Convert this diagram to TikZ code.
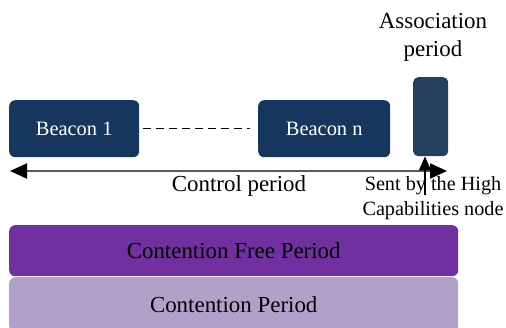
\documentclass[tikz,border=0pt]{standalone}
\usepackage{fontspec}
\setmainfont{Liberation Serif}
\newfontfamily\lserif{Liberation Serif}
\usetikzlibrary{arrows.meta}
\definecolor{navy}{HTML}{17365D}
\definecolor{assoc}{HTML}{243F60}
\definecolor{cfp}{HTML}{7030A0}
\definecolor{cp}{HTML}{B1A0C7}
\tikzset{
  beaconbox/.style={fill=navy, rounded corners=6bp, text=white, font=\lserif\fontsize{20.5}{22}\selectfont, anchor=north west, inner sep=0pt},
  periodbox/.style={rounded corners=6bp, font=\lserif\fontsize{23}{24}\selectfont, anchor=north west, inner sep=0pt},
  lbl/.style={font=\lserif\fontsize{23}{28}\selectfont, align=center, inner sep=0pt}
}
\begin{document}
\begin{tikzpicture}[x=1bp,y=-1bp]
\useasboundingbox (0,0) rectangle (506,327);
\node[beaconbox, minimum width=130bp, minimum height=57bp] (b1) at (9,100) {Beacon 1};
\node[beaconbox, minimum width=132bp, minimum height=57bp] (bn) at (258,100) {Beacon n};
\node[fill=assoc, rounded corners=5bp, anchor=north west, minimum width=35bp, minimum height=79bp, inner sep=0pt] (ap) at (413,77) {};
\draw[dash pattern=on 8bp off 5bp, line width=1bp, shorten <=4bp, shorten >=8bp] (b1.east) -- (bn.west);
\node[lbl] (aplbl) at (433,37) {Association\\period};
\coordinate (cl) at (10,171);
\coordinate (cr) at (447,171);
\draw[gray!70!black, line width=2bp, {Triangle[length=17bp,width=15bp,color=black,fill=black]}-{Triangle[length=17bp,width=15bp,color=black,fill=black]}] (cl) -- (cr);
\node[lbl] (ctl) at (239,186) {Control period};
\coordinate (sb) at (425,195);
\draw[line width=1.3bp, -{Triangle[length=14bp,width=12bp]}] (sb) -- (ap.south -| sb);
\node[lbl, font=\lserif\fontsize{20.3}{25}\selectfont] (sent) at (433,198.5) {Sent by the High\\Capabilities node};
\node[periodbox, fill=cfp, minimum width=449bp, minimum height=51bp] (cfpn) at (9,225) {Contention Free Period};
\node[periodbox, fill=cp, minimum width=449bp, minimum height=55bp] (cpn) at (9,277) {Contention Period};
\end{tikzpicture}
\end{document}
